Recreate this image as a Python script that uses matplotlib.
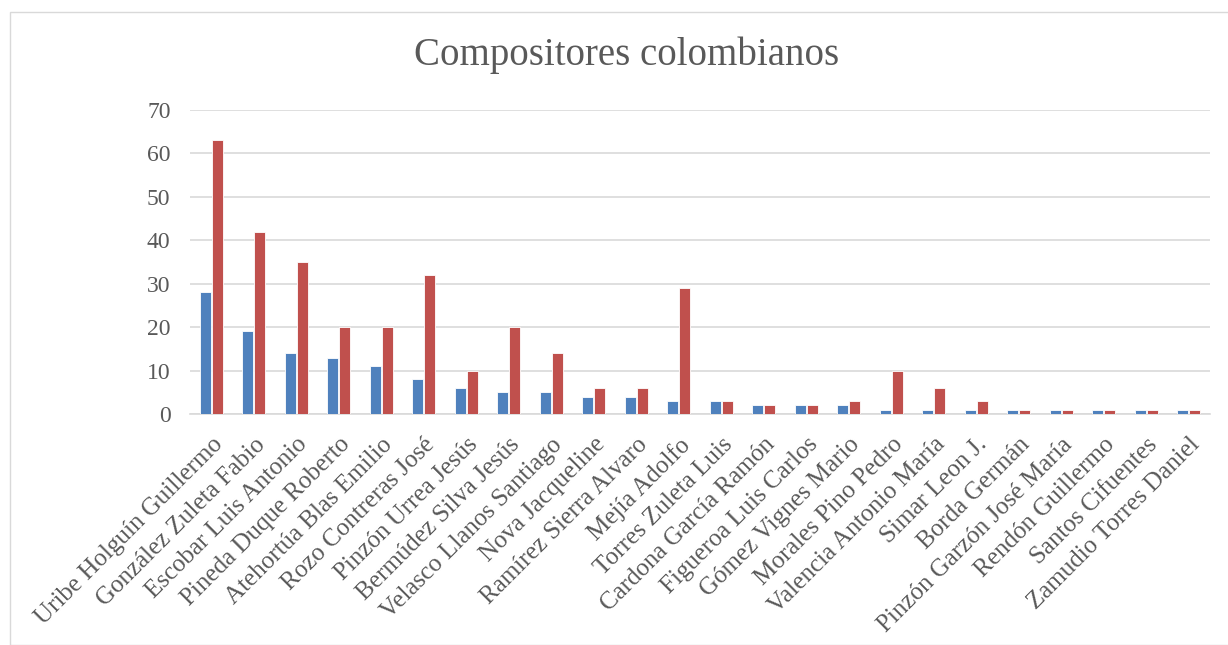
import matplotlib

matplotlib.use("Agg")
import matplotlib.pyplot as plt
import numpy as np
from matplotlib.patches import Rectangle

compositores = [
    "Uribe Holguín Guillermo", "González Zuleta Fabio", "Escobar Luis Antonio",
    "Pineda Duque Roberto", "Atehortúa Blas Emilio", "Rozo Contreras José",
    "Pinzón Urrea Jesús", "Bermúdez Silva Jesús", "Velasco Llanos Santiago",
    "Nova Jacqueline", "Ramírez Sierra Alvaro", "Mejía Adolfo",
    "Torres Zuleta Luis", "Cardona García Ramón", "Figueroa Luis Carlos",
    "Gómez Vignes Mario", "Morales Pino Pedro", "Valencia Antonio María",
    "Simar Leon J.", "Borda Germán", "Pinzón Garzón José María",
    "Rendón Guillermo", "Santos Cifuentes", "Zamudio Torres Daniel",
]
serie_azul = [28, 19, 14, 13, 11, 8, 6, 5, 5, 4, 4, 3, 3, 2, 2, 2, 1, 1, 1, 1, 1, 1, 1, 1]
serie_roja = [63, 42, 35, 20, 20, 32, 10, 20, 14, 6, 6, 29, 3, 2, 2, 3, 10, 6, 3, 1, 1, 1, 1, 1]
y_ticks = [0, 10, 20, 30, 40, 50, 60, 70]

BLUE = "#4F81BD"
RED = "#C0504D"
TEXT = "#595959"

plt.rcParams["font.family"] = ["Liberation Serif", "DejaVu Serif"]

fig = plt.figure(figsize=(12.28, 6.45), dpi=100)
fig.patches.append(Rectangle((10 / 1228, 0), 1.0, 1 - 12 / 645, transform=fig.transFigure,
                             fill=False, edgecolor="#D9D9D9", lw=1.0))
ax = fig.add_axes([190 / 1228, 1 - 414 / 645, 1020 / 1228, 304 / 645])

x = np.arange(len(compositores))
w = 0.25
ax.bar(x - 0.14, serie_azul, width=w, color=BLUE, edgecolor="white", lw=0.6, zorder=3)
ax.bar(x + 0.14, serie_roja, width=w, color=RED, edgecolor="white", lw=0.6, zorder=3)

ax.set_xlim(-0.5, len(compositores) - 0.5)
ax.set_ylim(0, 70)
ax.set_yticks(y_ticks)
ax.set_yticklabels([str(t) for t in y_ticks], fontsize=17, color=TEXT)
ax.yaxis.grid(True, color="#D9D9D9", lw=1.2, zorder=0)
ax.set_xticks(x)
ax.set_xticklabels(compositores, rotation=45, ha="right", rotation_mode="anchor",
                   fontsize=18, color=TEXT)
ax.tick_params(axis="y", length=0, pad=14)
ax.tick_params(axis="x", length=0, pad=14)
for s in ["top", "right", "left"]:
    ax.spines[s].set_visible(False)
ax.spines["bottom"].set_color("#D9D9D9")
ax.spines["bottom"].set_linewidth(1.2)

fig.text(627 / 1228, 1 - 55 / 645, "Compositores colombianos", ha="center", va="center",
         fontsize=28, color=TEXT)

fig.savefig("out.png", dpi=100)
